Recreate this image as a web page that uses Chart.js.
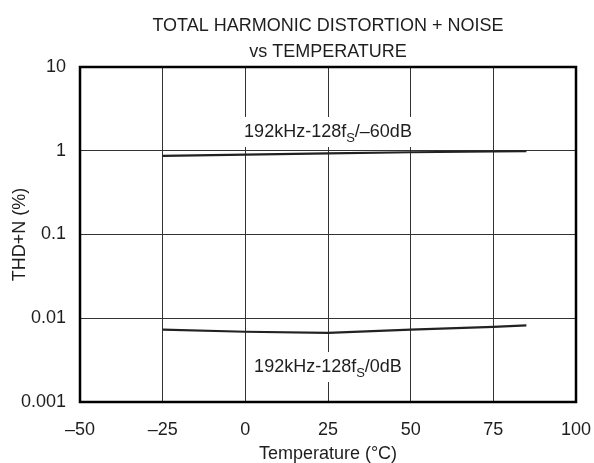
<!DOCTYPE html>
<html>
<head>
<meta charset="utf-8">
<script src="https://cdn.jsdelivr.net/npm/chart.js@4"></script>
<style>
  html, body { margin: 0; padding: 0; background: #fff; }
  #wrap { width: 594px; height: 463px; position: relative; }
</style>
</head>
<body>
<div id="wrap"><canvas id="c" width="594" height="463"></canvas></div>
<script>
// ---- data ----
const xTicks = [-50, -25, 0, 25, 50, 75, 100];
const yTicks = [0.001, 0.01, 0.1, 1, 10];
const tempMinus60dB = [-25, 0, 25, 50, 75, 85];
const thdMinus60dB = [0.87, 0.90, 0.93, 0.96, 0.98, 0.99];
const temp0dB = [-25, 0, 25, 50, 75, 85];
const thd0dB = [0.0073, 0.0069, 0.0067, 0.0073, 0.0079, 0.0082];
const titleLines = ['TOTAL HARMONIC DISTORTION + NOISE', 'vs TEMPERATURE'];
const xTitle = 'Temperature (\u00B0C)';
const yTitle = 'THD+N (%)';
const seriesLabels = [
  { main: '192kHz-128f', sub: 'S', tail: '/\u201360dB', x: 25, y: 1.46 },
  { main: '192kHz-128f', sub: 'S', tail: '/0dB', x: 25, y: 0.00228 }
];

const FONT = '"Liberation Sans", Arial, Helvetica, sans-serif';
const TEXT = '#1e1e1e';

function pts(xs, ys) { return xs.map((x, i) => ({ x: x, y: ys[i] })); }
function fmtX(v) { return v < 0 ? '\u2013' + Math.abs(v) : String(v); }

const decor = {
  id: 'decor',
  afterDatasetsDraw(chart) {
    const ctx = chart.ctx;
    const xs = chart.scales.x, ys = chart.scales.y;
    ctx.save();
    seriesLabels.forEach(l => {
      const mainF = '18px ' + FONT, subF = '13px ' + FONT;
      ctx.font = mainF;
      const w1 = ctx.measureText(l.main).width;
      const w3 = ctx.measureText(l.tail).width;
      ctx.font = subF;
      const w2 = ctx.measureText(l.sub).width;
      const total = w1 + w2 + w3;
      const cx = xs.getPixelForValue(l.x);
      const by = ys.getPixelForValue(l.y);
      const left = cx - total / 2;
      ctx.fillStyle = '#fff';
      ctx.fillRect(left - 5, by - 20, total + 10, 30);
      ctx.fillStyle = TEXT;
      ctx.textBaseline = 'alphabetic';
      ctx.textAlign = 'left';
      ctx.font = mainF;
      ctx.fillText(l.main, left, by);
      ctx.font = subF;
      ctx.fillText(l.sub, left + w1, by + 5);
      ctx.font = mainF;
      ctx.fillText(l.tail, left + w1 + w2, by);
    });
    ctx.restore();
  },
  afterDraw(chart) {
    const ctx = chart.ctx;
    const a = chart.chartArea;
    ctx.save();
    ctx.strokeStyle = '#000';
    ctx.lineWidth = 2.5;
    ctx.strokeRect(a.left, a.top, a.right - a.left, a.bottom - a.top);
    ctx.fillStyle = TEXT;
    ctx.font = '18px ' + FONT;
    ctx.textAlign = 'center';
    ctx.textBaseline = 'alphabetic';
    const cx = (a.left + a.right) / 2;
    ctx.fillText(titleLines[0], cx, 31);
    ctx.fillText(titleLines[1], cx, 57);
    ctx.fillText(xTitle, cx, 459);
    ctx.translate(25, (a.top + a.bottom) / 2);
    ctx.rotate(-Math.PI / 2);
    ctx.fillText(yTitle, 0, 0);
    ctx.restore();
  }
};

new Chart(document.getElementById('c'), {
  type: 'line',
  data: {
    datasets: [
      { data: pts(tempMinus60dB, thdMinus60dB), borderColor: '#222', borderWidth: 2.2, pointRadius: 0, tension: 0, fill: false },
      { data: pts(temp0dB, thd0dB), borderColor: '#222', borderWidth: 2.2, pointRadius: 0, tension: 0, fill: false }
    ]
  },
  options: {
    responsive: false,
    animation: false,
    devicePixelRatio: 1,
    layout: { padding: { left: 0, right: 18, top: 67, bottom: 0 } },
    plugins: { legend: { display: false }, title: { display: false }, tooltip: { enabled: false } },
    scales: {
      x: {
        type: 'linear', min: -50, max: 100,
        afterBuildTicks: s => { s.ticks = xTicks.map(v => ({ value: v })); },
        afterFit: s => { s.height = 61; s.paddingLeft = 0; s.paddingRight = 0; },
        border: { display: false },
        grid: { color: '#333', lineWidth: 1, drawTicks: false },
        ticks: { padding: 17, color: TEXT, font: { family: FONT, size: 18 }, callback: v => fmtX(v), maxRotation: 0, autoSkip: false }
      },
      y: {
        type: 'logarithmic', min: 0.001, max: 10,
        afterBuildTicks: s => { s.ticks = yTicks.map(v => ({ value: v })); },
        afterFit: s => { s.width = 80; s.paddingTop = 0; s.paddingBottom = 0; },
        border: { display: false },
        grid: { color: '#333', lineWidth: 1, drawTicks: false },
        ticks: { padding: 14, color: TEXT, font: { family: FONT, size: 18 }, callback: v => String(v), autoSkip: false }
      }
    }
  },
  plugins: [decor]
});
</script>
</body>
</html>
